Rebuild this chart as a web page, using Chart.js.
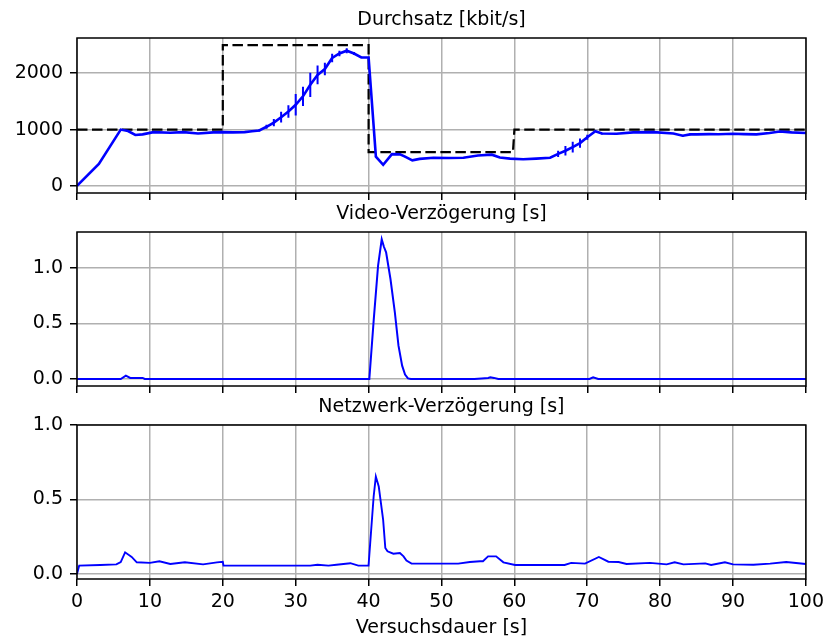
<!DOCTYPE html>
<html>
<head>
<meta charset="utf-8">
<script src="https://cdn.jsdelivr.net/npm/chart.js@4.4.1/dist/chart.umd.min.js"></script>
<style>
  body { margin: 0; background: #fff; }
  #wrap { position: relative; width: 829px; height: 643px; }
  #wrap canvas { position: absolute; left: 0; }
</style>
</head>
<body>
<div id="wrap">
  <canvas id="rateChart" width="829" height="212" style="top:0px"></canvas>
  <canvas id="videoChart" width="829" height="211" style="top:194px"></canvas>
  <canvas id="netChart" width="829" height="256" style="top:387px"></canvas>
</div>
<script>
// Durchsatz (gemessen) mit Fehlerbalken
const rateTime = [0, 3, 6, 7, 8, 9, 10.5, 12.8, 14.6, 16.6, 18.7, 20, 21.4, 23, 24, 25, 26, 27, 28, 29, 30,
    31, 32, 33, 34, 35, 36, 37, 38, 39, 40, 41, 42, 43.2, 44.3, 45, 46, 47, 48.9, 51, 53, 55, 56.9, 58, 59.4,
    61.2, 63, 64.9, 66, 67, 68, 69, 70, 71.1, 72, 74, 76.3, 79.1, 81.8, 83.1, 84.1, 85, 86.7, 88, 90, 91.5,
    93.2, 95, 96.4, 98, 100];
const rateValue = [0, 390, 1000, 975, 905, 915, 955, 945, 955, 930, 950, 955, 950, 955, 970, 985, 1050, 1125, 1220, 1320, 1440,
    1590, 1795, 1970, 2075, 2270, 2350, 2400, 2350, 2280, 2280, 520, 375, 565, 560, 520, 455, 480, 500, 495, 500, 540, 555, 505, 485,
    475, 485, 500, 570, 625, 690, 760, 865, 970, 930, 925, 950, 955, 930, 890, 915, 915, 920, 918, 925, 920,
    915, 940, 965, 950, 940];
const rateError = [0, 0, 0, 0, 0, 0, 0, 0, 0, 0, 0, 0, 0, 10, 12, 20, 35, 65, 95, 110, 190,
    170, 215, 165, 110, 75, 50, 45, 25, 12, 0, 10, 0, 10, 10, 10, 10, 10, 10, 15, 15, 10, 10, 10, 0,
    0, 0, 0, 55, 85, 95, 80, 45, 0, 15, 15, 10, 15, 10, 15, 15, 10, 15, 15, 10, 10,
    10, 10, 10, 10, 0];

// Zielrate (gestrichelt)
const targetTime = [0, 20, 20, 40, 40, 59.8, 60, 100];
const targetValue = [1000, 1000, 2500, 2500, 600, 600, 1000, 1000];

// Video-Verzoegerung
const videoTime = [0, 6.0, 6.7, 7.3, 9.0, 9.3, 40.1, 40.7, 41.3, 41.8, 42.1, 42.4, 43.0, 43.6, 44.1, 44.6, 45.0, 45.4, 45.8,
    54.5, 55.5, 56.4, 56.7, 57.2, 57.8, 70.3, 70.8, 71.5, 100];
const videoValue = [0, 0, 0.03, 0.01, 0.01, 0, 0, 0.53, 1.02, 1.257, 1.19, 1.14, 0.90, 0.60, 0.30, 0.12, 0.04, 0.005, 0,
    0, 0.005, 0.01, 0.015, 0.01, 0, 0, 0.015, 0, 0];

// Netzwerk-Verzoegerung
const netTime = [0, 0.3, 3.2, 5.4, 6.0, 6.6, 7.5, 8.2, 10.0, 11.3, 12.8, 14.8, 17.3, 19.2, 20.0, 20.1, 32.0, 33.0, 34.5,
    35.6, 37.5, 38.6, 40.0, 40.7, 41.0, 41.4, 42.0, 42.3, 42.6, 43.4, 44.3, 44.8, 45.2, 45.9, 52.3, 53.9, 55.3, 55.7,
    56.4, 57.5, 58.5, 60.1, 66.9, 67.8, 69.7, 71.6, 72.9, 74.3, 75.4, 78.6, 80.9, 82.0, 83.2, 86.2, 87.0, 88.9, 90.0,
    92.8, 95.1, 97.3, 100];
const netValue = [0, 0.056, 0.06, 0.064, 0.08, 0.145, 0.114, 0.078, 0.074, 0.085, 0.067, 0.078, 0.064, 0.078, 0.082, 0.056, 0.056, 0.062, 0.056,
    0.062, 0.072, 0.056, 0.056, 0.52, 0.654, 0.587, 0.364, 0.174, 0.152, 0.136, 0.14, 0.118, 0.09, 0.069, 0.069, 0.08, 0.085, 0.085,
    0.118, 0.118, 0.078, 0.06, 0.06, 0.074, 0.069, 0.114, 0.082, 0.08, 0.067, 0.074, 0.064, 0.078, 0.064, 0.071, 0.06, 0.078, 0.064,
    0.062, 0.069, 0.08, 0.067];

const xTicks = [0, 10, 20, 30, 40, 50, 60, 70, 80, 90, 100];
const rateTicks = [0, 1000, 2000];
const delayTicks = [0, 0.5, 1.0];

const FONT = 'DejaVu Sans';
const GRID = '#b0b0b0';
const BLUE = '#0000ff';

Chart.defaults.font.family = FONT;
Chart.defaults.font.size = 19;
Chart.defaults.color = '#000';

function points(xs, ys) {
    return xs.map((x, i) => ({ x: x, y: ys[i] }));
}

function errorBars(xs, ys, errs) {
    const out = [];
    xs.forEach((x, i) => {
        if (errs[i] > 0) {
            out.push({ x: x, y: ys[i] - errs[i] });
            out.push({ x: x, y: ys[i] + errs[i] });
            out.push({ x: x, y: null });
        }
    });
    return out;
}

// Rahmen um die Achsen (wie matplotlib-Spines)
const frame = {
    id: 'frame',
    afterDraw(chart) {
        const { ctx, chartArea: a } = chart;
        ctx.save();
        ctx.strokeStyle = '#000';
        ctx.lineWidth = 1.5;
        ctx.strokeRect(a.left, a.top, a.right - a.left, a.bottom - a.top);
        ctx.restore();
    }
};

function xScale(showLabels, height) {
    return {
        type: 'linear',
        min: 0,
        max: 100,
        afterBuildTicks: s => { s.ticks = xTicks.map(v => ({ value: v })); },
        afterFit: s => { s.height = height; },
        grid: { color: GRID, lineWidth: 1.5, tickColor: '#000', tickWidth: 1.5, tickLength: 7 },
        border: { display: false },
        ticks: { display: showLabels, padding: 5, maxRotation: 0, autoSkip: false },
        title: {
            display: showLabels,
            text: 'Versuchsdauer [s]',
            font: { size: 19 },
            padding: { top: 0, bottom: 4 }
        }
    };
}

// obere Achse nur fuer den Panel-Titel (zentriert ueber der Plotflaeche)
function titleScale(text) {
    return {
        type: 'linear',
        position: 'top',
        min: 0,
        max: 100,
        afterFit: s => { s.height = 38; },
        grid: { display: false },
        border: { display: false },
        ticks: { display: false },
        title: {
            display: true,
            text: text,
            font: { size: 19 },
            padding: { top: 9, bottom: 0 }
        }
    };
}

function yScale(min, max, tickList, fmt) {
    return {
        min: min,
        max: max,
        afterBuildTicks: s => { s.ticks = tickList.map(v => ({ value: v })); },
        afterFit: s => { s.width = 77; },
        grid: { color: GRID, lineWidth: 1.5, tickColor: '#000', tickWidth: 1.5, tickLength: 7 },
        border: { display: false },
        ticks: { padding: 7, callback: fmt }
    };
}

function baseOptions(title, xs, ys) {
    return {
        responsive: false,
        devicePixelRatio: 1,
        animation: false,
        layout: { padding: { left: 0, right: 23, top: 0, bottom: 0 } },
        elements: { point: { radius: 0 } },
        plugins: {
            legend: { display: false },
            tooltip: { enabled: false }
        },
        scales: { x: xs, top: titleScale(title), y: ys }
    };
}

new Chart(document.getElementById('rateChart'), {
    type: 'line',
    data: {
        datasets: [{
            data: points(rateTime, rateValue),
            borderColor: BLUE,
            borderWidth: 2.6,
            tension: 0
        }, {
            data: errorBars(rateTime, rateValue, rateError),
            borderColor: BLUE,
            borderWidth: 2,
            spanGaps: false
        }, {
            data: points(targetTime, targetValue),
            borderColor: '#000',
            borderWidth: 2.2,
            borderDash: [10.5, 4.5]
        }]
    },
    options: baseOptions('Durchsatz [kbit/s]', xScale(false, 19),
        yScale(-125, 2625, rateTicks, v => String(v))),
    plugins: [frame]
});

new Chart(document.getElementById('videoChart'), {
    type: 'line',
    data: {
        datasets: [{
            data: points(videoTime, videoValue),
            borderColor: BLUE,
            borderWidth: 2
        }]
    },
    options: baseOptions('Video-Verzögerung [s]', xScale(false, 19),
        yScale(-0.063, 1.323, delayTicks, v => v.toFixed(1))),
    plugins: [frame]
});

new Chart(document.getElementById('netChart'), {
    type: 'line',
    data: {
        datasets: [{
            data: points(netTime, netValue),
            borderColor: BLUE,
            borderWidth: 1.9
        }]
    },
    options: baseOptions('Netzwerk-Verzögerung [s]', xScale(true, 64),
        yScale(-0.034, 1.0, delayTicks, v => v.toFixed(1))),
    plugins: [frame]
});
</script>
</body>
</html>
